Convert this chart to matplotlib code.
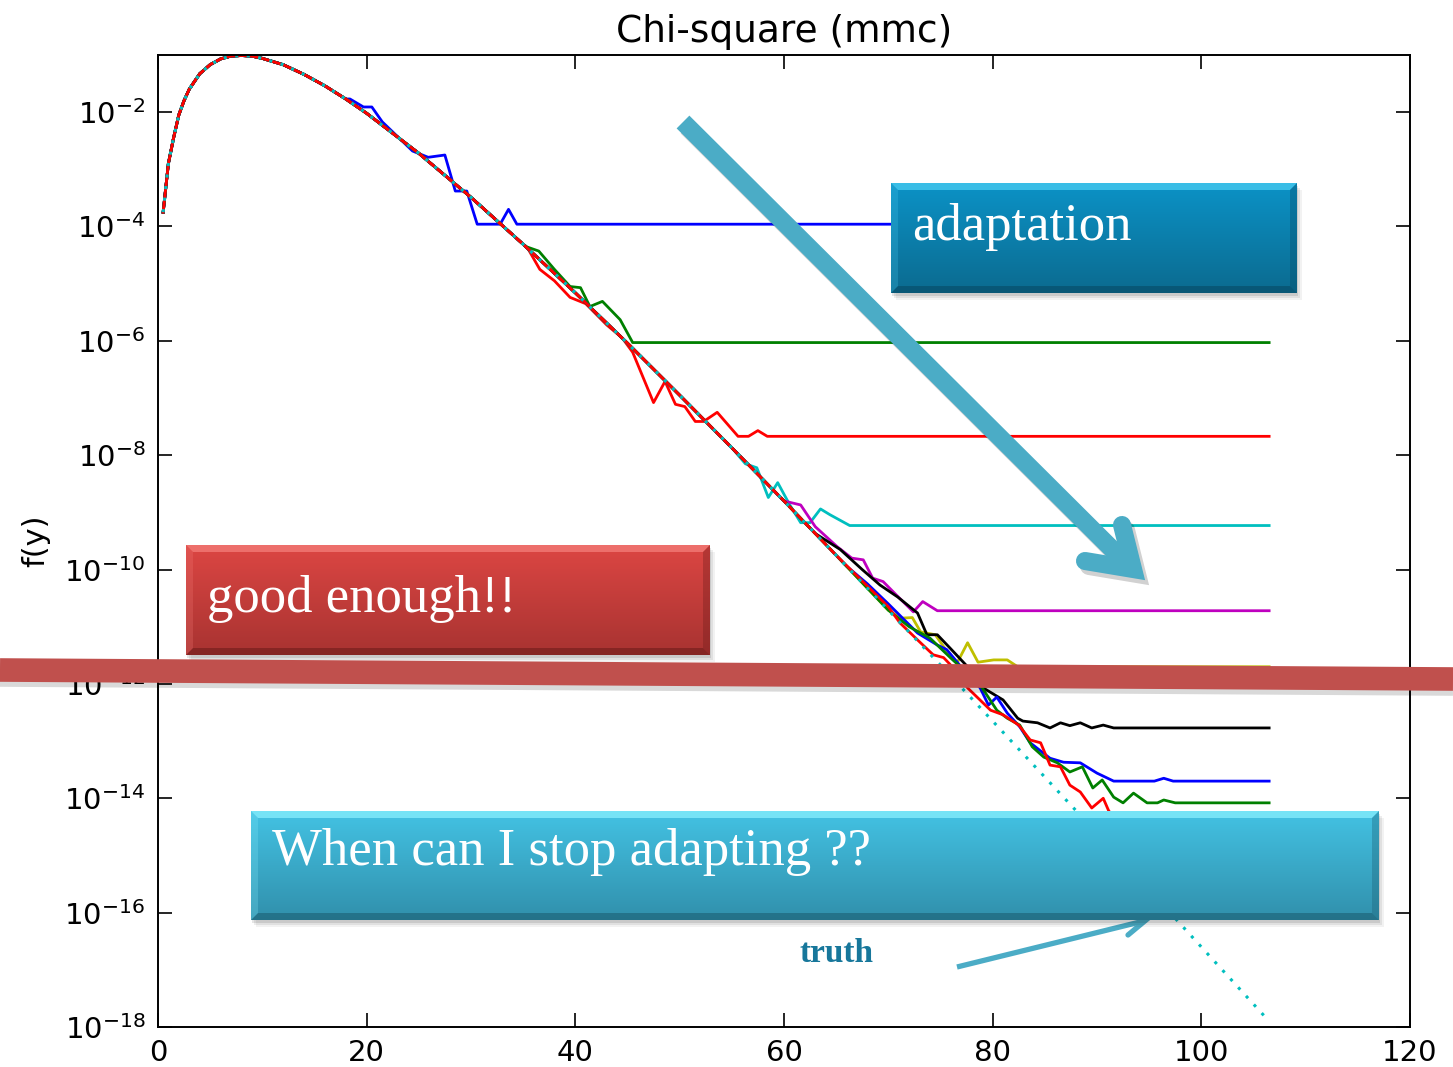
import matplotlib
matplotlib.use('Agg')
import matplotlib.pyplot as plt
import numpy as np
from matplotlib.colors import to_rgb
from matplotlib.patches import Polygon, Rectangle

plt.rcParams['axes.unicode_minus'] = False

# truth curve (dotted), log10 f(y)
truth_x = [0.5, 1, 1.5, 2, 2.5, 3, 4, 5, 6, 7, 8, 9, 10, 12, 14, 16, 18, 20, 25, 30,
           35, 40, 45, 50, 55, 60, 65, 70, 75, 80, 85, 90, 95, 100, 106.5]
truth_lg = [-3.75, -2.90, -2.45, -2.05, -1.80, -1.60, -1.33, -1.17, -1.07, -1.02, -1.01,
            -1.02, -1.06, -1.17, -1.34, -1.54, -1.77, -2.02, -2.72, -3.49,
            -4.31, -5.16, -6.04, -6.95, -7.87, -8.80, -9.75, -10.71, -11.67, -12.65,
            -13.63, -14.61, -15.60, -16.60, -17.90]

# runs: each one sits on the truth until its first point below, then noise + floor
b1_x = [18.4, 19.7, 20.5, 21.5, 24.4, 25.9, 27.5, 28.5, 29.6, 30.6, 32.8, 33.6, 34.4, 106.5]
b1_lg = [-1.77, -1.91, -1.91, -2.17, -2.68, -2.79, -2.75, -3.38, -3.38, -3.96, -3.96, -3.70, -3.96, -3.96]

g1_x = [35.4, 36.5, 38.0, 39.5, 40.5, 41.4, 42.6, 44.3, 45.5, 106.5]
g1_lg = [-4.36, -4.43, -4.75, -5.05, -5.07, -5.40, -5.31, -5.63, -6.03, -6.03]

r1_x = [35.5, 36.6, 38.0, 39.5, 41.0, 43.0, 44.5, 45.5, 47.5, 48.6, 49.6, 50.5, 51.5, 52.3,
        53.6, 55.6, 56.6, 57.5, 58.4, 106.5]
r1_lg = [-4.40, -4.75, -4.95, -5.24, -5.35, -5.72, -5.95, -6.20, -7.08, -6.71, -7.11, -7.15,
         -7.41, -7.41, -7.25, -7.67, -7.67, -7.57, -7.67, -7.67]

c1_x = [55.0, 56.3, 57.4, 58.5, 59.4, 60.5, 61.6, 62.5, 63.5, 64.4, 66.3, 106.5]
c1_lg = [-7.87, -8.15, -8.22, -8.74, -8.48, -8.85, -9.18, -9.18, -8.94, -9.04, -9.23, -9.23]

m1_x = [60.0, 61.6, 63.0, 65.1, 66.5, 67.6, 68.5, 69.5, 70.8, 72.4, 73.3, 74.7, 106.5]
m1_lg = [-8.80, -8.87, -9.25, -9.60, -9.80, -9.83, -10.15, -10.21, -10.45, -10.74, -10.56,
         -10.72, -10.72]

y1_x = [70.0, 71.2, 72.3, 73.1, 74.5, 75.5, 76.6, 77.6, 78.6, 80.1, 81.4, 82.4, 106.5]
y1_lg = [-10.71, -10.85, -10.84, -11.09, -11.14, -11.40, -11.63, -11.28, -11.62, -11.58,
         -11.58, -11.70, -11.70]

k1_x = [63.0, 65.4, 67.5, 69.2, 70.9, 72.8, 73.7, 74.7, 75.9, 77.6, 79.1, 81.0, 82.4, 82.9,
        84.3, 85.5, 86.5, 87.4, 88.4, 89.5, 90.6, 91.6, 106.5]
k1_lg = [-9.37, -9.65, -10.00, -10.27, -10.48, -10.76, -11.14, -11.14, -11.37, -11.70, -12.07,
         -12.28, -12.60, -12.65, -12.68, -12.77, -12.68, -12.73, -12.68, -12.77, -12.72,
         -12.77, -12.77]

b2_x = [66.0, 68.0, 70.0, 72.8, 74.7, 75.6, 77.2, 78.8, 79.6, 80.4, 81.4, 82.6, 83.6, 85.5,
        86.8, 88.4, 90.0, 91.6, 95.5, 96.4, 97.3, 106.5]
b2_lg = [-9.94, -10.25, -10.60, -11.11, -11.32, -11.40, -11.75, -12.07, -12.37, -12.23,
         -12.51, -12.75, -13.03, -13.30, -13.37, -13.38, -13.56, -13.70, -13.70, -13.65,
         -13.70, -13.70]

g2_x = [72.0, 74.0, 76.0, 77.5, 79.0, 80.4, 81.4, 82.6, 83.8, 84.9, 86.2, 87.4, 88.6, 89.6,
        90.5, 91.6, 92.5, 93.5, 94.8, 95.8, 96.4, 97.5, 106.5]
g2_lg = [-11.00, -11.20, -11.55, -11.80, -12.07, -12.46, -12.60, -12.72, -13.10, -13.28,
         -13.38, -13.54, -13.45, -13.82, -13.68, -13.98, -14.08, -13.91, -14.08, -14.08,
         -14.03, -14.08, -14.08]

r2_x = [70.0, 71.1, 72.8, 74.3, 75.3, 76.6, 77.6, 79.8, 81.0, 82.5, 83.6, 84.6, 85.5, 86.5,
        87.4, 88.4, 89.5, 90.6, 91.1, 92.5, 94.0, 106.5]
r2_lg = [-10.65, -10.93, -11.23, -11.49, -11.54, -11.79, -12.07, -12.46, -12.54, -12.72,
         -12.98, -13.03, -13.42, -13.45, -13.77, -13.89, -14.17, -14.00, -14.21, -14.60,
         -14.75, -14.75]

runs = [('b', b1_x, b1_lg), ('g', g1_x, g1_lg), ('r', r1_x, r1_lg), ('c', c1_x, c1_lg),
        ('m', m1_x, m1_lg), ('y', y1_x, y1_lg), ('k', k1_x, k1_lg), ('b', b2_x, b2_lg),
        ('g', g2_x, g2_lg), ('r', r2_x, r2_lg)]

fig = plt.figure(figsize=(14.53, 10.67), dpi=100)
ax = fig.add_axes([0.1087, 0.0375, 0.8617, 0.911])

for col, tx, tl in runs:
    hx = [x for x in truth_x if x < tx[0]]
    hl = truth_lg[:len(hx)]
    ax.plot(hx + tx, 10 ** np.array(hl + tl), color=col, lw=2)
ax.plot(truth_x, 10 ** np.array(truth_lg), color='c', lw=2.2, ls=(0, (1, 2.8)))

ax.set_yscale('log')
ax.set_xlim(0, 120)
ax.set_ylim(1e-18, 1e-1)
ax.set_xticks([0, 20, 40, 60, 80, 100, 120])
ax.set_yticks([10.0 ** e for e in range(-18, -1, 2)])
ax.minorticks_off()
ax.tick_params(direction='in', length=10, width=1.2, top=True, right=True,
               labelsize=21, pad=9)
for s in ax.spines.values():
    s.set_linewidth(1.4)
ax.set_title('Chi-square (mmc)', fontsize=27, pad=9)
ax.set_ylabel('f(y)', fontsize=22, labelpad=10)

# ---- slide annotations drawn on top, in pixel coordinates ----
ov = fig.add_axes([0, 0, 1, 1], zorder=10)
ov.set_xlim(0, 1453)
ov.set_ylim(1067, 0)
ov.axis('off')
ov.patch.set_alpha(0)

z = [20]


def nz():
    z[0] += 1
    return z[0]


def box(x0, y0, x1, y1, ctop, cbot, light, dark, label, base):
    w, h = x1 - x0, y1 - y0
    for k, a in [(7, 0.05), (5, 0.07), (3, 0.1)]:
        ov.add_patch(Rectangle((x0 + k - 2, y0 + k), w, h, color='k', alpha=a, lw=0, zorder=nz()))
    g = np.linspace(0, 1, 64)[:, None, None]
    img = (1 - g) * np.array(to_rgb(ctop)) + g * np.array(to_rgb(cbot))
    ov.imshow(img, extent=(x0, x1, y1, y0), aspect='auto', interpolation='bilinear', zorder=nz())
    b = 7
    ov.add_patch(Polygon([(x0, y0), (x1, y0), (x1 - b, y0 + b), (x0 + b, y0 + b)],
                         color=light, alpha=0.8, lw=0, zorder=nz()))
    ov.add_patch(Polygon([(x0, y1), (x1, y1), (x1 - b, y1 - b), (x0 + b, y1 - b)],
                         color=dark, alpha=0.6, lw=0, zorder=nz()))
    ov.add_patch(Polygon([(x1, y0), (x1, y1), (x1 - b, y1 - b), (x1 - b, y0 + b)],
                         color=dark, alpha=0.35, lw=0, zorder=nz()))
    ov.add_patch(Polygon([(x0, y0), (x0, y1), (x0 + b, y1 - b), (x0 + b, y0 + b)],
                         color=light, alpha=0.25, lw=0, zorder=nz()))
    ov.text(x0 + 21, y0 + base * h, label, fontsize=38, family=['Liberation Serif', 'DejaVu Serif'],
            color='white', va='baseline', ha='left', zorder=nz())


arrow_c = '#4BACC6'

# big "adaptation" arrow
for dx, dy, col, a in [(4, 5, 'k', 0.18), (0, 0, arrow_c, 1.0)]:
    ov.plot([683 + dx, 1126 + dx], [122 + dy, 563 + dy], color=col, alpha=a, lw=13,
            solid_capstyle='butt', zorder=nz())
    ov.plot([1122 + dx, 1133 + dx, 1085 + dx], [525 + dy, 569 + dy, 561 + dy], color=col,
            alpha=a, lw=13, solid_capstyle='round', solid_joinstyle='miter', zorder=nz())

box(891, 183, 1297, 293, '#0c92c6', '#0b6b90', '#45c9ef', '#064a66', 'adaptation', 0.52)
box(186, 545, 710, 655, '#dc4643', '#a83331', '#f27a76', '#6e1c1b', 'good enough!!', 0.61)

# red "good enough" line
ov.plot([0, 1453], [675, 684], color='k', alpha=0.15, lw=17, solid_capstyle='butt', zorder=nz())
ov.plot([0, 1453], [670, 679], color='#C0504D', lw=17, solid_capstyle='butt', zorder=nz())

# small truth arrow (under the lower box)
ov.plot([957, 1144], [967, 921], color=arrow_c, lw=3.8, solid_capstyle='butt', zorder=nz())
ov.plot([1128, 1146, 1126], [935, 920, 913], color=arrow_c, lw=3.8, solid_capstyle='round',
        solid_joinstyle='miter', zorder=nz())

box(251, 811, 1379, 920, '#43c2e3', '#3190ac', '#84ecfc', '#1c5f73', 'When can I stop adapting ??', 0.50)

ov.text(799, 962, 'truth', fontsize=24, fontweight='bold', family=['Liberation Serif', 'DejaVu Serif'],
        color='#17779B', va='baseline', ha='left', zorder=nz())

ov.set_xlim(0, 1453)
ov.set_ylim(1067, 0)

fig.savefig('out.png', dpi=100)
